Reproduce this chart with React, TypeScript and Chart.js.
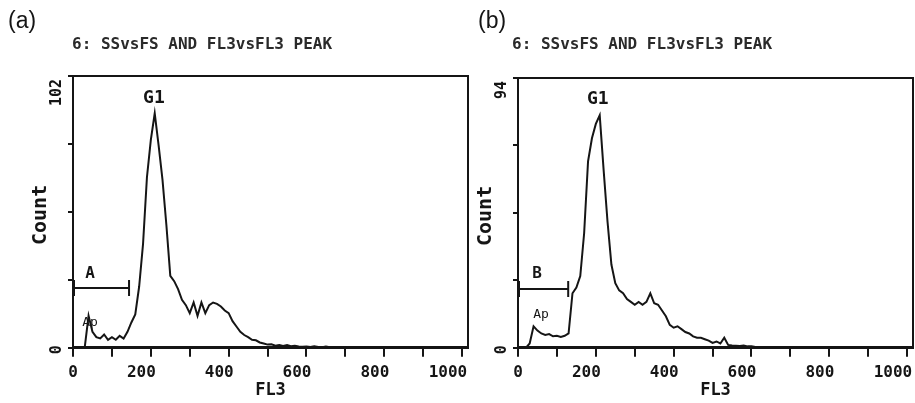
import React, { useEffect, useRef } from 'react';
import { Chart, registerables } from 'chart.js';

Chart.register(...registerables);

// ---------- DATA ----------
const FL3_CHANNELS = [
  0, 10, 20, 30, 40, 50, 60, 70, 80, 90,
  100, 110, 120, 130, 140, 150, 160, 170, 180, 190,
  200, 210, 220, 230, 240, 250, 260, 270, 280, 290,
  300, 310, 320, 330, 340, 350, 360, 370, 380, 390,
  400, 410, 420, 430, 440, 450, 460, 470, 480, 490,
  500, 510, 520, 530, 540, 550, 560, 570, 580, 590,
  600, 610, 620, 630, 640, 650, 660, 670, 680, 690,
  700, 710, 720, 730, 740, 750, 760, 770, 780, 790,
  800, 810, 820, 830, 840, 850, 860, 870, 880, 890,
  900, 910, 920, 930, 940, 950, 960, 970, 980, 990,
  1000,
];

const COUNTS_A = [
  0, 0, 0, 0, 12, 6, 4, 3.5, 5, 3,
  4, 3, 4.5, 3.5, 6, 9.5, 12.5, 23, 39, 64,
  78, 88, 76, 63, 46, 27, 25, 22, 18, 16,
  13, 17, 12, 17, 13, 16, 17, 16.5, 15.5, 14,
  13, 10, 8, 6, 4.8, 4, 3, 2.8, 2, 1.6,
  1.2, 1.3, 0.8, 1, 0.7, 1, 0.6, 0.8, 0.5, 0.4,
  0.5, 0.3, 0.6, 0.3, 0.2, 0.5, 0.2, 0, 0, 0,
  0, 0, 0, 0, 0, 0, 0, 0, 0, 0,
  0, 0, 0, 0, 0, 0, 0, 0, 0, 0,
  0, 0, 0, 0, 0, 0, 0, 0, 0, 0,
  0,
];

const COUNTS_B = [
  0, 0, 0, 1.5, 7.5, 6, 5, 4.5, 4.8, 4,
  4.2, 3.8, 4.2, 5, 19, 21, 25, 40, 65, 73,
  78, 81, 62, 44, 29, 22.5, 20, 19, 17, 16,
  15, 16, 15, 16, 19, 15.5, 15, 13, 11, 8,
  7, 7.5, 6.5, 5.5, 5, 4, 3.5, 3.5, 3, 2.5,
  1.7, 2.2, 1.5, 3.5, 1, 0.8, 0.7, 0.6, 0.8, 0.5,
  0.5, 0.3, 0, 0, 0, 0, 0, 0, 0, 0,
  0, 0, 0, 0, 0, 0, 0, 0, 0, 0,
  0, 0, 0, 0, 0, 0, 0, 0, 0, 0,
  0, 0, 0, 0, 0, 0, 0, 0, 0, 0,
  0,
];

const X_TICKS = [0, 100, 200, 300, 400, 500, 600, 700, 800, 900, 1000];
const X_LABELED = [0, 200, 400, 600, 800, 1000];
const X_TICK_LABELS = ['0', '200', '400', '600', '800', '1000'];
const X_MAX = 1015;

const Y_TICKS_A = [0, 25.5, 51, 76.5, 102];
const Y_TICK_LABELS_A = ['0', '102'];
const Y_TICKS_B = [0, 23.5, 47, 70.5, 94];
const Y_TICK_LABELS_B = ['0', '94'];

const PANEL_TITLE = '6: SSvsFS AND FL3vsFL3 PEAK';

// ---------- PANELS ----------
type Panel = {
  tag: string;
  tagX: number;
  titleDx: number;
  counts: number[];
  yTicks: number[];
  yLabels: string[];
  padding: { left: number; right: number; top: number; bottom: number };
  gate: string;
  gateEnd: number;
  gateY: number;
  gateLabel: { x: number; y: number };
  ap: { x: number; y: number };
  g1: { x: number; y: number };
};

const PANELS: Panel[] = [
  {
    tag: '(a)', tagX: 8, titleDx: -1,
    counts: COUNTS_A, yTicks: Y_TICKS_A, yLabels: Y_TICK_LABELS_A,
    padding: { left: 68, right: 447, top: 76, bottom: 15 },
    gate: 'A', gateEnd: 144, gateY: 22.4, gateLabel: { x: 44, y: 27.6 },
    ap: { x: 44, y: 9.3 }, g1: { x: 208, y: 93.8 },
  },
  {
    tag: '(b)', tagX: 478, titleDx: -6,
    counts: COUNTS_B, yTicks: Y_TICKS_B, yLabels: Y_TICK_LABELS_B,
    padding: { left: 513, right: 2, top: 78, bottom: 15 },
    gate: 'B', gateEnd: 129, gateY: 20.5, gateLabel: { x: 49, y: 25.8 },
    ap: { x: 59, y: 11.5 }, g1: { x: 205, y: 86.7 },
  },
];

const MONO = '"DejaVu Sans Mono", "Liberation Mono", monospace';
const INK = '#151515';

function decorPlugin(p: Panel) {
  return {
    id: 'decor',
    afterDraw(chart: any) {
      const { ctx, chartArea: a } = chart;
      const xs = chart.scales.x;
      const ys = chart.scales.y;
      ctx.save();
      // frame top + right
      ctx.strokeStyle = INK;
      ctx.lineWidth = 2;
      ctx.beginPath();
      ctx.moveTo(a.left - 1, a.top);
      ctx.lineTo(a.right, a.top);
      ctx.lineTo(a.right, a.bottom);
      ctx.stroke();

      ctx.fillStyle = INK;
      // panel tag
      ctx.font = '23px "Liberation Sans", Arial, sans-serif';
      ctx.textAlign = 'left';
      ctx.textBaseline = 'middle';
      ctx.fillText(p.tag, p.tagX, 22);

      // title
      ctx.fillStyle = '#2a2a2a';
      ctx.font = `bold 16px ${MONO}`;
      ctx.fillText(PANEL_TITLE, a.left + p.titleDx, 45);

      ctx.fillStyle = INK;
      // y labels (rotated)
      const rot = (text: string, x: number, y: number, align: CanvasTextAlign, font: string) => {
        ctx.save();
        ctx.translate(x, y);
        ctx.rotate(-Math.PI / 2);
        ctx.font = font;
        ctx.textAlign = align;
        ctx.textBaseline = 'middle';
        ctx.fillText(text, 0, 0);
        ctx.restore();
      };
      rot(p.yLabels[1], a.left - 16, a.top + 3, 'right', `bold 15px ${MONO}`);
      rot(p.yLabels[0], a.left - 16, a.bottom + 2, 'center', `bold 15px ${MONO}`);
      rot('Count', a.left - 32, (a.top + a.bottom) / 2 + 3, 'center', `bold 20px ${MONO}`);

      // x title
      ctx.font = `bold 17px ${MONO}`;
      ctx.textAlign = 'center';
      ctx.textBaseline = 'middle';
      ctx.fillText('FL3', (a.left + a.right) / 2, 391);

      // G1
      ctx.font = `bold 18px ${MONO}`;
      ctx.fillText('G1', xs.getPixelForValue(p.g1.x), ys.getPixelForValue(p.g1.y));

      // gate bracket
      const x0 = xs.getPixelForValue(0);
      const x1 = xs.getPixelForValue(p.gateEnd);
      const gy = ys.getPixelForValue(p.gateY);
      ctx.lineWidth = 2;
      ctx.beginPath();
      ctx.moveTo(x0, gy);
      ctx.lineTo(x1, gy);
      ctx.moveTo(x0 + 1, gy - 8);
      ctx.lineTo(x0 + 1, gy + 8);
      ctx.moveTo(x1, gy - 8);
      ctx.lineTo(x1, gy + 8);
      ctx.stroke();
      ctx.font = `bold 16px ${MONO}`;
      ctx.fillText(p.gate, xs.getPixelForValue(p.gateLabel.x), ys.getPixelForValue(p.gateLabel.y));

      // Ap
      ctx.font = `13px ${MONO}`;
      ctx.fillText('Ap', xs.getPixelForValue(p.ap.x), ys.getPixelForValue(p.ap.y));
      ctx.restore();
    },
  };
}

function PanelChart({ panel }: { panel: Panel }) {
  const ref = useRef<HTMLCanvasElement | null>(null);
  useEffect(() => {
    if (!ref.current) return;
    const chart = new Chart(ref.current, {
      type: 'line',
      data: {
        datasets: [
          {
            data: FL3_CHANNELS.map((x, i) => ({ x, y: panel.counts[i] })),
            borderColor: INK,
            borderWidth: 2,
            pointRadius: 0,
            tension: 0,
            fill: false,
          },
        ],
      },
      options: {
        responsive: false,
        animation: false,
        devicePixelRatio: 1,
        layout: { padding: panel.padding },
        plugins: { legend: { display: false }, tooltip: { enabled: false } },
        scales: {
          x: {
            type: 'linear',
            min: 0,
            max: X_MAX,
            afterBuildTicks: (s: any) => {
              s.ticks = X_TICKS.map((v) => ({ value: v }));
            },
            ticks: {
              autoSkip: false,
              maxRotation: 0,
              minRotation: 0,
              align: 'end',
              labelOffset: 5,
              padding: 6,
              color: INK,
              font: { family: MONO, size: 16, weight: 'bold' },
              callback: (v: any) => {
                const i = X_LABELED.indexOf(Number(v));
                return i >= 0 ? X_TICK_LABELS[i] : '';
              },
            },
            grid: { drawOnChartArea: false, drawTicks: true, tickLength: 9, color: INK, lineWidth: 2 },
            border: { display: true, color: INK, width: 3 },
          },
          y: {
            type: 'linear',
            min: 0,
            max: panel.yTicks[panel.yTicks.length - 1],
            afterBuildTicks: (s: any) => {
              s.ticks = panel.yTicks.map((v) => ({ value: v }));
            },
            ticks: { display: false },
            grid: { drawOnChartArea: false, drawTicks: true, tickLength: 5, color: INK, lineWidth: 2 },
            border: { display: true, color: INK, width: 2 },
          },
        },
      } as any,
      plugins: [decorPlugin(panel)],
    });
    return () => chart.destroy();
  }, [panel]);
  return (
    <canvas
      ref={ref}
      width={915}
      height={403}
      style={{ position: 'absolute', left: 0, top: 0, width: 915, height: 403 }}
    />
  );
}

export default function App() {
  return (
    <div style={{ position: 'fixed', left: 0, top: 0, width: 915, height: 403, background: '#fff', overflow: 'hidden' }}>
      {PANELS.map((p) => (
        <PanelChart key={p.tag} panel={p} />
      ))}
    </div>
  );
}
